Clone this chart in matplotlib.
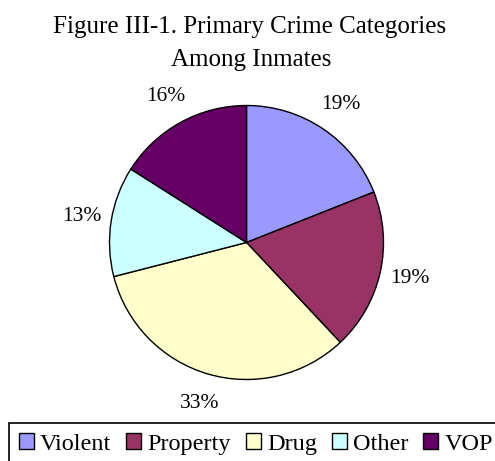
import matplotlib
matplotlib.use("Agg")
import matplotlib.pyplot as plt
from matplotlib.patches import Rectangle

categories = ["Violent", "Property", "Drug", "Other", "VOP"]
shares = [19, 19, 33, 13, 16]
colors = ["#9999FF", "#993366", "#FFFFCC", "#CCFFFF", "#660066"]
title_lines = ["Figure III-1. Primary Crime Categories", "Among Inmates"]

plt.rcParams['font.family'] = ['Liberation Serif', 'DejaVu Serif']

W, H = 495, 461
fig = plt.figure(figsize=(W / 100, H / 100), dpi=100)
fig.patch.set_facecolor("white")

# pie axes: centre (246.5, 242.5) px, radius 137 px
cx, cy, r = 246.5, 242.5, 137
ax = fig.add_axes([(cx - r) / W, (H - cy - r) / H, 2 * r / W, 2 * r / H])
wedges, texts, autotexts = ax.pie(
    shares, colors=colors, startangle=90, counterclock=False,
    autopct=lambda p: f"{p:.0f}%", pctdistance=1.22,
    wedgeprops=dict(edgecolor="black", linewidth=1.0),
    textprops=dict(fontsize=15.5, color="black"))
ax.set_xlim(-1, 1)
ax.set_ylim(-1, 1)
ax.set_aspect("equal")

# title
fig.text(249.5 / W, 1 - 33 / H, title_lines[0], ha="center", va="baseline", fontsize=18)
fig.text(251 / W, 1 - 66 / H, title_lines[1], ha="center", va="baseline", fontsize=18)

# legend
fs = 17.5
px = fs / 0.72
fig.legend(wedges, categories, loc="center left",
           bbox_to_anchor=(19 / W, 1 - 444 / H), ncol=5, frameon=False,
           fontsize=fs, handlelength=15 / px, handleheight=15 / px,
           handletextpad=6 / px, columnspacing=15 / px,
           borderpad=0, borderaxespad=0)
fig.patches.append(Rectangle((9 / W, -0.1), 1.0, (H - 423) / H + 0.1,
                             transform=fig.transFigure, fill=False,
                             edgecolor="black", linewidth=1.2))

fig.savefig("out.png", dpi=100)
